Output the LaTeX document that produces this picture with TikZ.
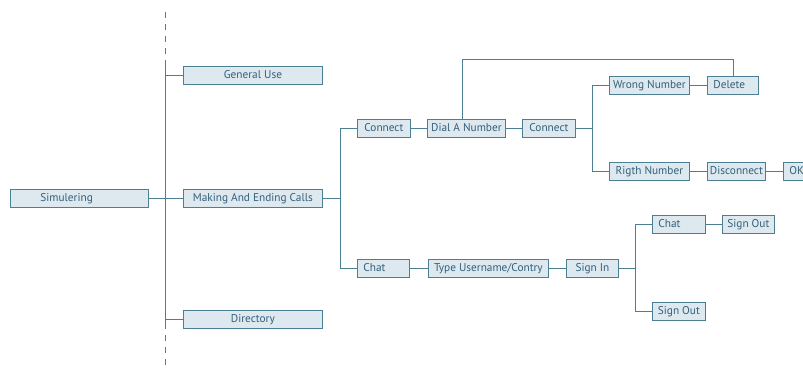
\documentclass[tikz,border=0pt]{standalone}
\usepackage{fontspec}
\setmainfont{PT Sans}
\definecolor{linec}{RGB}{77,127,148}
\definecolor{boxfill}{RGB}{221,232,239}
\definecolor{textc}{RGB}{52,96,122}
\tikzset{
  box/.style={draw=linec, fill=boxfill, text=textc, thick, minimum height=18pt,
    inner sep=0pt, anchor=west, text height=1.6ex, text depth=.1ex,
    font=\fontsize{11.3}{13}\selectfont},
  leftbox/.style={box, text width=#1, align=left, execute at begin node=\hspace*{6pt}},
  link/.style={draw=linec, thick}
}
\begin{document}
\begin{tikzpicture}[x=1pt,y=-1pt]
        \useasboundingbox[fill=white] (0,0) rectangle (803,372);
        % Boxes
        \node[box, text width=138pt, align=left] (sim) at (10,198) {\hspace*{30pt}Simulering};
        \node[box, minimum width=139pt] (gen) at (183,75) {General Use};
        \node[box, minimum width=139pt] (calls) at (183,198) {Making And Ending Calls};
        \node[box, minimum width=139pt] (dir) at (183,319) {Directory};
        \node[box, minimum width=53pt] (conn) at (357,128) {Connect};
        \node[box, minimum width=78pt] (dial) at (427,128) {Dial A Number};
        \node[box, minimum width=53pt] (conn2) at (522,128) {Connect};
        \node[box, minimum width=80pt] (wrong) at (609,85) {Wrong Number};
        \node[leftbox=51pt] (del) at (707,85) {Delete};
        \node[box, minimum width=80pt] (right) at (609,171) {Rigth Number};
        \node[box, minimum width=58pt] (disc) at (707,171) {Disconnect};
        \node[leftbox=40pt] (ok) at (783,171) {OK};
        \node[leftbox=52pt] (chat) at (357,268) {Chat};
        \node[box, minimum width=120pt] (user) at (428,268) {Type Username/Contry};
        \node[box, minimum width=52pt] (signin) at (566,268) {Sign In};
        \node[leftbox=53pt] (chat2) at (652,224) {Chat};
        \node[box, minimum width=52pt] (out1) at (722,224) {Sign Out};
        \node[box, minimum width=53pt] (out2) at (652,311) {Sign Out};
        % Spine
        \coordinate (spinetop) at (165,65);
        \coordinate (spinebot) at (165,323);
        \draw[link, dashed, dash pattern=on 6pt off 6pt] (165,12) -- (spinetop);
        \draw[link, dashed, dash pattern=on 6pt off 6pt] (spinebot) -- (165,370);
        \draw[link] (spinetop) -- (spinebot);
        \draw[link] (sim) -- (calls);
        \draw[link] (gen.west) -- (gen.west -| spinetop);
        \draw[link] (dir.west) -- (dir.west -| spinetop);
        % Calls
        \draw[link] (calls.east) -- ++(18,0) coordinate (fork1);
        \draw[link] (conn.west) -| (fork1) |- (chat.west);
        \draw[link] (conn) -- (dial);
        \draw[link] (dial) -- (conn2);
        \draw[link] (conn2.east) -- ++(17,0) coordinate (fork2);
        \draw[link] (wrong.west) -| (fork2) |- (right.west);
        \draw[link] (wrong) -- (del);
        \draw[link] (right) -- (disc);
        \draw[link] (disc) -- (ok);
        \coordinate (loop) at (462,59);
        \draw[link] (dial.north -| loop) -- (loop) -| (del.north);
        % Chat
        \draw[link] (chat) -- (user);
        \draw[link] (user) -- (signin);
        \draw[link] (signin.east) -- ++(17,0) coordinate (fork3);
        \draw[link] (chat2.west) -| (fork3) |- (out2.west);
        \draw[link] (chat2) -- (out1);
      \end{tikzpicture}
\end{document}
